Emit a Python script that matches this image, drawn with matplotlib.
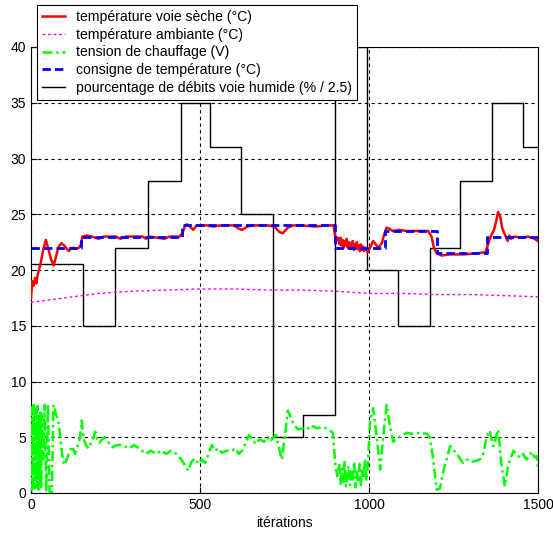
import numpy as np
import matplotlib
matplotlib.use('Agg')
import matplotlib.pyplot as plt

plt.rcParams['font.family'] = ['Liberation Sans', 'DejaVu Sans']

# pourcentage de debits voie humide (% / 2.5) -- steps
deb_t = [0, 155, 250, 345, 445, 530, 620, 715, 805, 900, 995, 1085, 1180, 1270, 1365, 1455, 1500]
deb_v = [20.5, 15, 22, 28, 35, 31, 25, 5, 7, 40, 20, 15, 22, 28, 35, 31, 31]

# consigne de temperature -- steps
cons_t = [0, 148, 448, 898, 1047, 1200, 1349, 1500]
cons_v = [22, 23, 24, 22, 23.5, 21.5, 23, 23]

# temperature voie seche
sec_t = [0, 4, 8, 12, 16, 20, 28, 36, 44, 52, 60, 67, 74, 82, 90, 98, 106, 112, 118, 126,
         134, 142, 148, 152, 165, 180, 200, 215, 250, 265, 280, 330, 340, 350, 395, 410,
         440, 448, 455, 462, 470, 480, 490, 520, 540, 560, 600, 615, 625, 640, 660, 700,
         720, 735, 745, 760, 775, 800, 840, 880, 895, 899, 903, 907, 910, 913, 916, 919,
         922, 925, 928, 931, 934, 937, 940, 943, 946, 949, 952, 955, 958, 961, 964, 967,
         970, 973, 976, 979, 982, 985, 988, 992, 996, 1005, 1012, 1020, 1028, 1038, 1045,
         1052, 1060, 1070, 1090, 1110, 1140, 1175, 1185, 1192, 1200, 1215, 1240, 1280,
         1320, 1345, 1352, 1360, 1370, 1377, 1382, 1388, 1394, 1400, 1405, 1410, 1415,
         1420, 1430, 1450, 1470, 1490, 1500]
sec_v = [17.5, 19.0, 18.6, 19.3, 18.8, 19.6, 20.5, 21.8, 22.7, 21.8, 20.9, 20.4, 21.2, 22.1,
         22.4, 22.2, 21.9, 21.7, 21.9, 22.0, 21.9, 22.0, 22.3, 23.0, 23.1, 23.0, 22.8, 23.0,
         23.0, 22.8, 23.0, 23.0, 22.8, 23.0, 22.8, 23.0, 23.0, 23.3, 23.9, 24.1, 23.9, 23.6,
         24.0, 24.0, 23.9, 24.0, 24.0, 23.7, 23.6, 23.9, 24.0, 24.0, 23.9, 23.4, 23.3, 23.8,
         24.0, 24.0, 23.9, 24.0, 24.0, 23.2, 22.6, 22.9, 22.8, 22.3, 22.9, 22.2, 22.7, 22.0,
         22.6, 22.2, 22.8, 22.0, 22.5, 21.9, 22.4, 22.0, 22.6, 21.8, 22.3, 21.9, 22.5, 21.9,
         22.2, 21.7, 22.3, 21.8, 22.1, 21.7, 22.0, 21.8, 21.6, 22.1, 22.6, 22.3, 22.0, 22.4,
         23.2, 23.8, 23.7, 23.5, 23.6, 23.5, 23.5, 23.5, 23.0, 22.0, 21.5, 21.3, 21.4, 21.4,
         21.5, 21.6, 22.3, 23.0, 23.6, 24.5, 25.2, 24.8, 23.8, 23.3, 23.0, 22.6, 23.1, 22.8,
         23.0, 22.9, 23.0, 22.8, 22.6]

# temperature ambiante
amb_t = [0, 50, 100, 150, 200, 250, 300, 400, 500, 600, 700, 800, 900, 1000, 1100, 1200,
         1300, 1400, 1500]
amb_v = [17.1, 17.3, 17.5, 17.7, 17.9, 18.0, 18.1, 18.2, 18.3, 18.3, 18.2, 18.2, 18.1, 17.9,
         17.9, 17.8, 17.8, 17.7, 17.6]

# tension de chauffage
ch_t = [0, 2, 4, 6, 8, 10, 12, 14, 16, 18, 20, 22, 24, 26, 28, 30, 32, 36, 40, 45, 50, 55,
        62, 66, 68, 74, 80, 85, 90, 95, 100, 108, 115, 122, 130, 138, 145, 150, 155, 162,
        170, 178, 185, 190, 196, 202, 210, 218, 228, 240, 255, 270, 290, 305, 320, 340, 355,
        370, 385, 400, 415, 430, 445, 455, 465, 475, 485, 495, 505, 515, 525, 535, 545, 555,
        565, 580, 595, 605, 615, 625, 635, 645, 655, 665, 675, 690, 700, 707, 715, 725, 742,
        750, 760, 775, 790, 805, 815, 825, 835, 845, 860, 875, 885, 893, 900, 906, 912, 916,
        920, 924, 928, 932, 936, 940, 944, 948, 952, 956, 960, 964, 968, 972, 976, 980, 984,
        988, 992, 996, 1003, 1012, 1023, 1033, 1042, 1052, 1062, 1072, 1082, 1095, 1112,
        1130, 1150, 1172, 1180, 1190, 1200, 1210, 1220, 1240, 1260, 1278, 1290, 1305, 1318,
        1328, 1338, 1348, 1357, 1368, 1382, 1392, 1402, 1412, 1427, 1437, 1447, 1456, 1466,
        1475, 1481, 1490, 1496, 1500]
ch_v = [7.8, 0.3, 7.5, 0.6, 7.9, 0.4, 7.2, 1.0, 7.6, 0.5, 7.8, 0.3, 6.8, 1.2, 7.4, 0.4, 7.0,
        3.0, 7.9, 0.1, 8.0, 0.1, 0.1, 7.8, 7.9, 7.0, 6.6, 5.5, 4.0, 2.8, 2.5, 3.2, 3.8, 4.2,
        3.5, 4.2, 5.0, 6.5, 5.0, 4.3, 4.0, 4.5, 5.0, 5.5, 4.8, 4.5, 4.8, 5.0, 4.6, 4.1, 4.3,
        4.3, 4.0, 4.3, 4.0, 3.5, 3.8, 3.5, 3.8, 3.5, 3.8, 3.5, 3.0, 2.5, 2.0, 2.8, 3.1, 2.6,
        3.0, 2.7, 3.5, 4.3, 3.8, 4.0, 3.6, 3.8, 3.8, 4.0, 3.5, 3.8, 4.5, 5.2, 4.8, 4.4, 4.8,
        4.6, 5.0, 4.6, 4.9, 5.2, 3.0, 4.8, 7.4, 6.3, 5.7, 5.8, 5.9, 5.7, 6.0, 5.8, 5.9, 5.8,
        5.6, 5.4, 2.7, 1.5, 2.6, 0.8, 2.2, 1.0, 2.9, 0.6, 1.8, 2.4, 0.7, 2.1, 1.2, 2.8, 0.5,
        1.9, 1.0, 2.6, 0.7, 2.0, 1.3, 2.9, 1.1, 2.4, 6.3, 7.6, 5.0, 2.1, 5.0, 7.9, 6.0, 4.6,
        4.9, 5.1, 5.4, 5.3, 5.4, 5.3, 5.0, 3.0, 0.3, 0.4, 2.0, 4.2, 3.5, 2.7, 3.0, 2.8, 2.9,
        3.0, 3.5, 5.0, 5.6, 4.2, 5.7, 2.5, 0.6, 2.5, 3.8, 3.4, 3.2, 3.5, 3.0, 3.3, 3.7, 3.2,
        3.3, 2.3]

fig = plt.figure(figsize=(5.53, 5.34), dpi=100)
ax = fig.add_axes([31/553, 1-493/534, 507/553, 446/534])

ax.step(deb_t, deb_v, 'k', where='post', lw=1.0, label='pourcentage de débits voie humide (% / 2.5)', zorder=2)
ax.plot(amb_t, amb_v, color=(1, 0, 1), linestyle=(0, (2, 2)), lw=1.0, label='température ambiante (°C)', zorder=3)
ax.plot(ch_t, ch_v, color=(0, 1, 0), linestyle=(0, (4, 1.5, 1, 1.5)), lw=1.8, label='tension de chauffage (V)', zorder=3)
ax.plot(sec_t, sec_v, 'r', lw=1.8, label='température voie sèche (°C)', zorder=4)
ax.step(cons_t, cons_v, color='b', where='post', linestyle=(0, (3, 1.5)), lw=2.0, label='consigne de température (°C)', zorder=5)

ax.set_xlim(0, 1500)
ax.set_ylim(0, 40)
ax.set_xticks([0, 500, 1000, 1500])
ax.set_yticks(range(0, 41, 5))
ax.grid(True, color='k', linestyle=(0, (3, 3)), lw=0.8)
ax.tick_params(direction='in', length=4, labelsize=10, colors='k')
for s in ax.spines.values():
    s.set_linewidth(0.8)
ax.set_xlabel('itérations', fontsize=10, labelpad=3)

h, l = ax.get_legend_handles_labels()
order = [3, 1, 2, 4, 0]
leg = ax.legend([h[i] for i in order], [l[i] for i in order], loc='upper left',
                bbox_to_anchor=(6/507, 488/446), borderaxespad=0, fontsize=10.1,
                fancybox=False, framealpha=1, edgecolor='k', handlelength=1.65,
                labelspacing=0.27, borderpad=0.35, handletextpad=0.8)
leg.get_frame().set_linewidth(0.8)
leg.set_zorder(10)

fig.savefig('out.png', dpi=100)
